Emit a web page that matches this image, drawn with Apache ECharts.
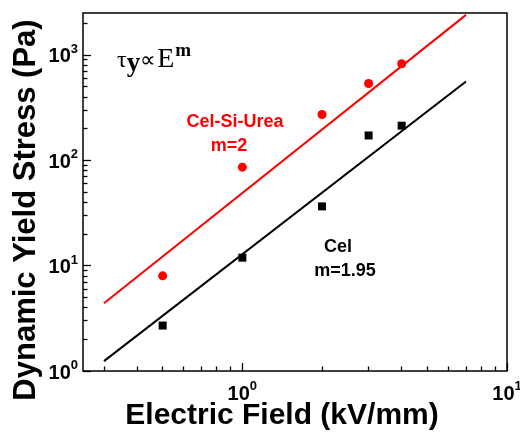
<!DOCTYPE html>
<html>
<head>
<meta charset="utf-8">
<script src="https://cdn.jsdelivr.net/npm/echarts@6/dist/echarts.min.js"></script>
<style>
  html, body { margin: 0; padding: 0; background: #fff; }
  #chart { width: 520px; height: 435px; }
</style>
</head>
<body>
<div id="chart"></div>
<script>
// measured points
const fieldX = [0.5, 1, 2, 3, 4]
const celSiUrea = [8.0, 86, 272, 535, 825]
const cel = [2.7, 11.9, 36.5, 172, 213]
// fitted power-law lines (end points)
const fitX = [0.3, 7]
const fitRed = [4.4, 2400]
const fitBlack = [1.24, 560]
// axis ranges and ticks
const xRange = [0.25, 10]
const yRange = [1, 2500]
const xMajor = [1, 10]
const xMinor = [0.3, 0.4, 0.5, 0.6, 0.7, 0.8, 0.9, 2, 3, 4, 5, 6, 7, 8, 9]
const yMajor = [1, 10, 100, 1000]
const yMinor = [2, 3, 4, 5, 6, 7, 8, 9, 20, 30, 40, 50, 60, 70, 80, 90,
  200, 300, 400, 500, 600, 700, 800, 900, 2000]

const font = "'Liberation Sans', Arial, sans-serif"
const serif = "'Liberation Serif', 'Times New Roman', serif"

const chart = echarts.init(document.getElementById("chart"), null, { renderer: "canvas" })

// only powers of ten get a label: 10^n
const powLabel = {
  formatter: v => {
    const e = Math.log10(v)
    if (Math.abs(e - Math.round(e)) > 1e-6) return ""
    return "{b|10}{s|" + Math.round(e) + "}"
  },
  rich: {
    b: { fontSize: 20, fontWeight: "bold", fontFamily: font, color: "#000", lineHeight: 24, verticalAlign: "bottom" },
    s: { fontSize: 13, fontWeight: "bold", fontFamily: font, color: "#000", lineHeight: 24, verticalAlign: "top" }
  }
}

const titleStyle = { fontFamily: font, fontWeight: "bold", color: "#000" }
const box = { left: 83, top: 13, right: 13, bottom: 64, outerBoundsMode: "none", containLabel: false }

function pair(xs, ys) {
  return xs.map((x, i) => [x, ys[i]])
}

// tick-only axes: same box, no labels, no names
function tickAxis(grid, range, ticks, len) {
  return {
    type: "log", logBase: 10, gridIndex: grid, min: range[0], max: range[1],
    axisLine: { show: false }, splitLine: { show: false }, axisLabel: { show: false },
    axisTick: { show: true, inside: true, length: len, customValues: ticks, lineStyle: { color: "#000", width: 1.3 } }
  }
}

const option = {
  animation: false,
  grid: [
    Object.assign({ show: true, borderColor: "#000", borderWidth: 1.5, backgroundColor: "transparent" }, box),
    Object.assign({ show: false }, box),
    Object.assign({ show: false }, box)
  ],
  xAxis: [
    {
      type: "log", logBase: 10, gridIndex: 0, min: xRange[0], max: xRange[1],
      axisLine: { show: false }, axisTick: { show: false }, splitLine: { show: false },
      axisLabel: Object.assign({ margin: 9 }, powLabel),
      name: "Electric Field (kV/mm)",
      nameLocation: "middle",
      nameGap: 30,
      nameMoveOverlap: false,
      nameTextStyle: Object.assign({ fontSize: 30, padding: [0, 26, 0, 0] }, titleStyle)
    },
    tickAxis(1, xRange, xMinor, 4.5),
    tickAxis(2, xRange, xMajor, 8)
  ],
  yAxis: [
    {
      type: "log", logBase: 10, gridIndex: 0, min: yRange[0], max: yRange[1],
      axisLine: { show: false }, axisTick: { show: false }, splitLine: { show: false },
      axisLabel: Object.assign({ margin: 5 }, powLabel),
      name: "Dynamic Yield Stress (Pa)",
      nameLocation: "middle",
      nameGap: 41,
      nameMoveOverlap: false,
      nameTextStyle: Object.assign({ fontSize: 31, padding: [0, 36, 0, 0] }, titleStyle)
    },
    tickAxis(1, yRange, yMinor, 4.5),
    tickAxis(2, yRange, yMajor, 8)
  ],
  series: [
    {
      type: "line", data: pair(fitX, fitRed), symbol: "none",
      lineStyle: { color: "#ff0000", width: 2 }, z: 2
    },
    {
      type: "line", data: pair(fitX, fitBlack), symbol: "none",
      lineStyle: { color: "#000", width: 2 }, z: 2
    },
    {
      type: "scatter", data: pair(fieldX, celSiUrea), symbol: "circle", symbolSize: 9,
      itemStyle: { color: "#ff0000", opacity: 1 }, z: 3
    },
    {
      type: "scatter", data: pair(fieldX, cel), symbol: "rect", symbolSize: 8,
      itemStyle: { color: "#000", opacity: 1 }, z: 3
    }
  ],
  graphic: [
    {
      type: "text", x: 117, y: 42,
      style: {
        text: "{t|τ}{y|y}{p|∝}{e|E}{m|m}",
        rich: {
          t: { fontFamily: serif, fontSize: 24, fill: "#000", lineHeight: 40, verticalAlign: "bottom", padding: [0, 0, 9, 0] },
          y: { fontFamily: serif, fontSize: 27, fontWeight: "bold", fill: "#000", lineHeight: 40, verticalAlign: "bottom", padding: [0, 0, 4, 0] },
          p: { fontFamily: serif, fontSize: 22, fill: "#000", lineHeight: 40, verticalAlign: "bottom", padding: [0, 1, 10, 0] },
          e: { fontFamily: serif, fontSize: 28, fill: "#000", lineHeight: 40, verticalAlign: "bottom", padding: [0, 0, 8, 0] },
          m: { fontFamily: serif, fontSize: 19, fontWeight: "bold", fill: "#000", lineHeight: 40, verticalAlign: "top", padding: [0, 0, 0, 1] }
        }
      }
    },
    {
      type: "text", x: 235, y: 122,
      style: { text: "Cel-Si-Urea", fontFamily: font, fontSize: 18, fontWeight: "bold", fill: "#ff0000", align: "center", verticalAlign: "middle" }
    },
    {
      type: "text", x: 229, y: 146.5,
      style: { text: "m=2", fontFamily: font, fontSize: 18, fontWeight: "bold", fill: "#ff0000", align: "center", verticalAlign: "middle" }
    },
    {
      type: "text", x: 338, y: 247,
      style: { text: "Cel", fontFamily: font, fontSize: 18, fontWeight: "bold", fill: "#000", align: "center", verticalAlign: "middle" }
    },
    {
      type: "text", x: 345, y: 271,
      style: { text: "m=1.95", fontFamily: font, fontSize: 18, fontWeight: "bold", fill: "#000", align: "center", verticalAlign: "middle" }
    }
  ]
}

chart.setOption(option)
</script>
</body>
</html>
